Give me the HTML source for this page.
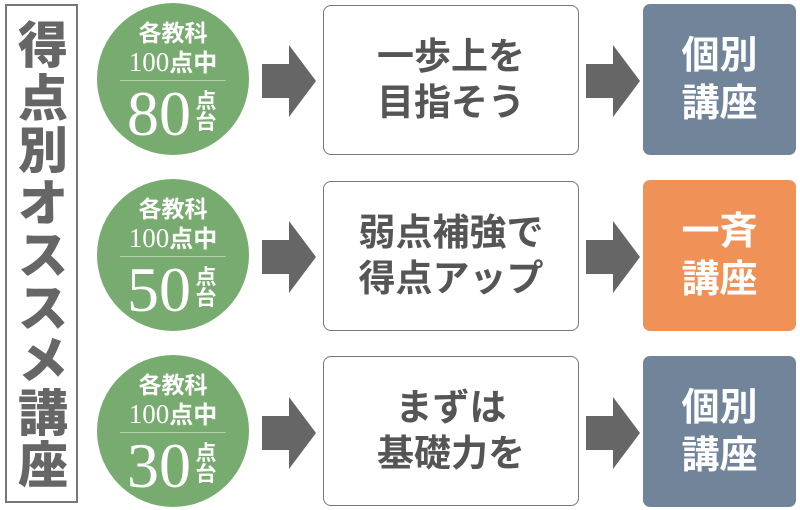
<!DOCTYPE html>
<html><head><meta charset="utf-8"><style>
body{margin:0;width:800px;height:510px;background:#fff;position:relative;overflow:hidden;font-family:"Liberation Sans","Noto Sans CJK JP",sans-serif}
.lb{position:absolute;left:5px;top:4px;width:73px;height:499px;border:2px solid #777;box-sizing:border-box}
.lt{position:absolute;left:5px;top:20px;width:76px;text-align:center;font-size:50px;font-weight:900;color:#666;line-height:52.5px}
.c{position:absolute;left:97px;width:152px;height:152px;border-radius:50%;background:#78ab6f;color:#fff;text-align:center}
.c .a{position:absolute;top:18px;width:100%;font-size:23px;font-weight:bold;line-height:24px}
.c .b{position:absolute;top:44px;width:100%;font-size:27px;line-height:28px;font-family:"Liberation Serif","Noto Sans CJK JP",serif}
.c .b span{font-family:"Noto Sans CJK JP",sans-serif;font-weight:bold;font-size:24px}
.c .ln{position:absolute;top:77px;left:23px;width:106px;height:1px;background:#b5d1ae}
.c .n{position:absolute;top:76px;left:30px;font-family:"Liberation Serif",serif;font-size:64px;line-height:70px}
.c .s{position:absolute;top:88px;left:98px;font-size:21px;line-height:21px;font-weight:bold;width:22px}
.ar{position:absolute;left:262px;width:54px;height:72px}
.m{position:absolute;left:323px;width:256px;height:150px;border:1.5px solid #777;border-radius:8px;box-sizing:border-box;display:flex;align-items:center;justify-content:center;text-align:center;font-size:37px;color:#555;line-height:46px;font-weight:bold}
.ar2{position:absolute;left:586px;width:54px;height:72px}
.r{position:absolute;left:643px;width:153px;height:151px;border-radius:7px;display:flex;align-items:center;justify-content:center;text-align:center;font-size:38px;color:#fff;line-height:48px;font-weight:bold}
</style></head><body>
<div class="lb"></div>
<div class="lt">得<br>点<br>別<br>オ<br>ス<br>ス<br>メ<br>講<br>座</div>

<div class="c" style="top:3px"><div class="a">各教科</div><div class="b">100<span>点中</span></div><div class="ln"></div><div class="n">80</div><div class="s">点<br>台</div></div>
<div class="c" style="top:179px"><div class="a">各教科</div><div class="b">100<span>点中</span></div><div class="ln"></div><div class="n">50</div><div class="s">点<br>台</div></div>
<div class="c" style="top:355px"><div class="a">各教科</div><div class="b">100<span>点中</span></div><div class="ln"></div><div class="n">30</div><div class="s">点<br>台</div></div>

<svg class="ar" style="top:45px" viewBox="0 0 54 72"><polygon points="0,19 27,19 27,0 54,36 27,72 27,53 0,53" fill="#666"/></svg>
<svg class="ar" style="top:221px" viewBox="0 0 54 72"><polygon points="0,19 27,19 27,0 54,36 27,72 27,53 0,53" fill="#666"/></svg>
<svg class="ar" style="top:397px" viewBox="0 0 54 72"><polygon points="0,19 27,19 27,0 54,36 27,72 27,53 0,53" fill="#666"/></svg>

<div class="m" style="top:5px">一歩上を<br>目指そう</div>
<div class="m" style="top:181px">弱点補強で<br>得点アップ</div>
<div class="m" style="top:356px">まずは<br>基礎力を</div>

<svg class="ar2" style="top:45px" viewBox="0 0 54 72"><polygon points="0,19 27,19 27,0 54,36 27,72 27,53 0,53" fill="#666"/></svg>
<svg class="ar2" style="top:221px" viewBox="0 0 54 72"><polygon points="0,19 27,19 27,0 54,36 27,72 27,53 0,53" fill="#666"/></svg>
<svg class="ar2" style="top:397px" viewBox="0 0 54 72"><polygon points="0,19 27,19 27,0 54,36 27,72 27,53 0,53" fill="#666"/></svg>

<div class="r" style="top:4px;background:#72849a">個別<br>講座</div>
<div class="r" style="top:180px;background:#f09158">一斉<br>講座</div>
<div class="r" style="top:356px;background:#72849a">個別<br>講座</div>
</body></html>
